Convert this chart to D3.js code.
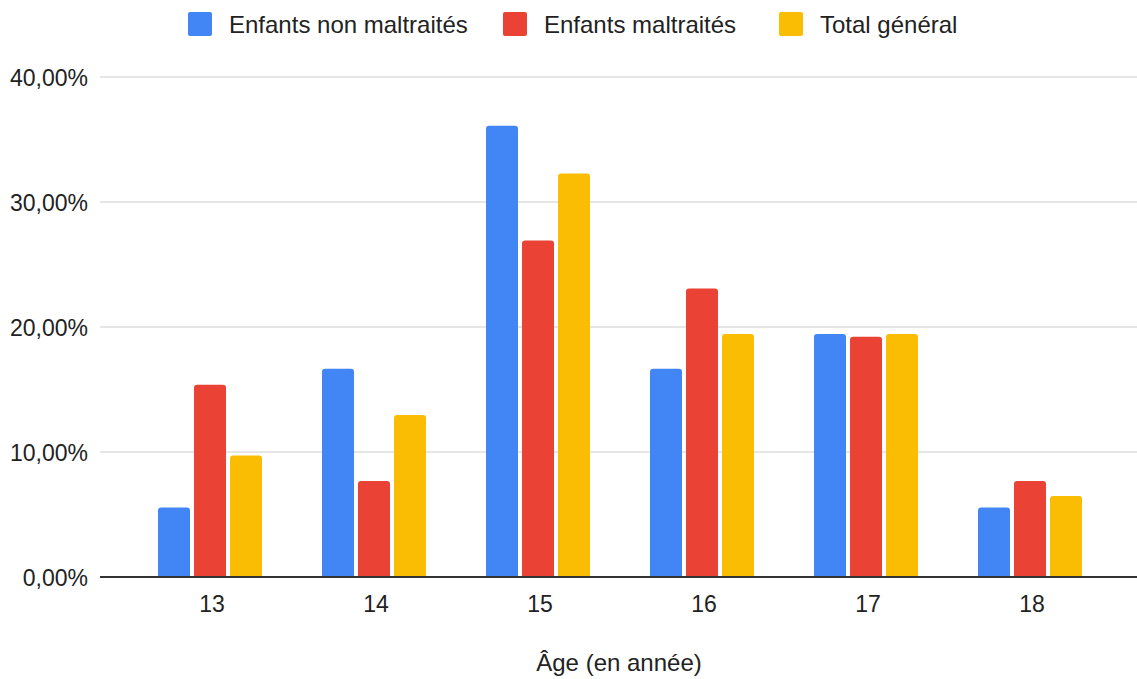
<!DOCTYPE html>
<html>
<head>
<meta charset="utf-8">
<script src="https://cdn.jsdelivr.net/npm/d3@7"></script>
<style>
  body { margin: 0; background: #fff; }
  svg { font-family: "Liberation Sans", Arial, sans-serif; }
</style>
</head>
<body>
<div id="chart"></div>
<script>
// Données
const ages = ["13", "14", "15", "16", "17", "18"];
const seriesNames = ["Enfants non maltraités", "Enfants maltraités", "Total général"];
const nonMaltraites = [5.56, 16.67, 36.11, 16.67, 19.44, 5.56];
const maltraites = [15.38, 7.69, 26.92, 23.08, 19.23, 7.69];
const totalGeneral = [9.72, 12.96, 32.29, 19.44, 19.44, 6.48];
const yTicks = [0, 10, 20, 30, 40];
const colors = ["#4285F4", "#EA4335", "#FBBC04"];

const width = 1137, height = 679;
const svg = d3.select("#chart").append("svg")
    .attr("width", width)
    .attr("height", height);

const values = [nonMaltraites, maltraites, totalGeneral];
const rows = ages.map((a, i) => ({ age: a, vals: values.map(v => v[i]) }));

const x0 = d3.scaleBand().domain(ages).range([130, 1114]);
const x1 = d3.scaleBand().domain(d3.range(3)).range([0, 108]);
const y = d3.scaleLinear().domain([0, 40]).range([577, 77]);

const fmt = v => d3.format(".2f")(v).replace(".", ",") + "%";

// grille horizontale
svg.append("g").selectAll("line")
    .data(yTicks.filter(t => t > 0))
    .enter().append("line")
    .attr("x1", 100).attr("x2", width)
    .attr("y1", d => y(d)).attr("y2", d => y(d))
    .attr("stroke", "#cccccc").attr("stroke-width", 1);

// libellés de l'axe Y
svg.append("g").selectAll("text")
    .data(yTicks)
    .enter().append("text")
    .attr("x", 88)
    .attr("y", d => y(d) + 9)
    .attr("text-anchor", "end")
    .style("font-size", "23px")
    .attr("fill", "#222")
    .text(fmt);

// barres (coins du haut arrondis)
const bw = 32, r = 3;
const barPath = (xl, yt, yb) => {
    const h = yb - yt;
    const rr = Math.min(r, h);
    return `M${xl},${yb} V${yt + rr} Q${xl},${yt} ${xl + rr},${yt} H${xl + bw - rr} Q${xl + bw},${yt} ${xl + bw},${yt + rr} V${yb} Z`;
};

svg.append("g").selectAll("g")
    .data(rows)
    .enter().append("g")
    .attr("transform", d => `translate(${x0(d.age) + x0.bandwidth() / 2 - 54},0)`)
    .selectAll("path")
    .data(d => d.vals.map((v, i) => ({ v, i })))
    .enter().append("path")
    .attr("d", d => barPath(x1(d.i), y(d.v), y(0)))
    .attr("fill", d => colors[d.i]);

// ligne de base
svg.append("line")
    .attr("x1", 100).attr("x2", width)
    .attr("y1", y(0)).attr("y2", y(0))
    .attr("stroke", "#333").attr("stroke-width", 2);

// libellés de l'axe X
svg.append("g").selectAll("text")
    .data(ages)
    .enter().append("text")
    .attr("x", d => x0(d) + x0.bandwidth() / 2)
    .attr("y", 612)
    .attr("text-anchor", "middle")
    .style("font-size", "23px")
    .attr("fill", "#222")
    .text(d => d);

// titre de l'axe X
svg.append("text")
    .attr("x", 619)
    .attr("y", 671)
    .attr("text-anchor", "middle")
    .style("font-size", "24px")
    .attr("fill", "#222")
    .text("Âge (en année)");

// légende
const legendX = [188, 503, 779];
const legend = svg.append("g").selectAll("g")
    .data(seriesNames)
    .enter().append("g")
    .attr("transform", (d, i) => `translate(${legendX[i]},12)`);
legend.append("rect")
    .attr("width", 24).attr("height", 24)
    .attr("rx", 2)
    .attr("fill", (d, i) => colors[i]);
legend.append("text")
    .attr("x", 41)
    .attr("y", 21)
    .style("font-size", "24px")
    .attr("fill", "#222")
    .text(d => d);
</script>
</body>
</html>
